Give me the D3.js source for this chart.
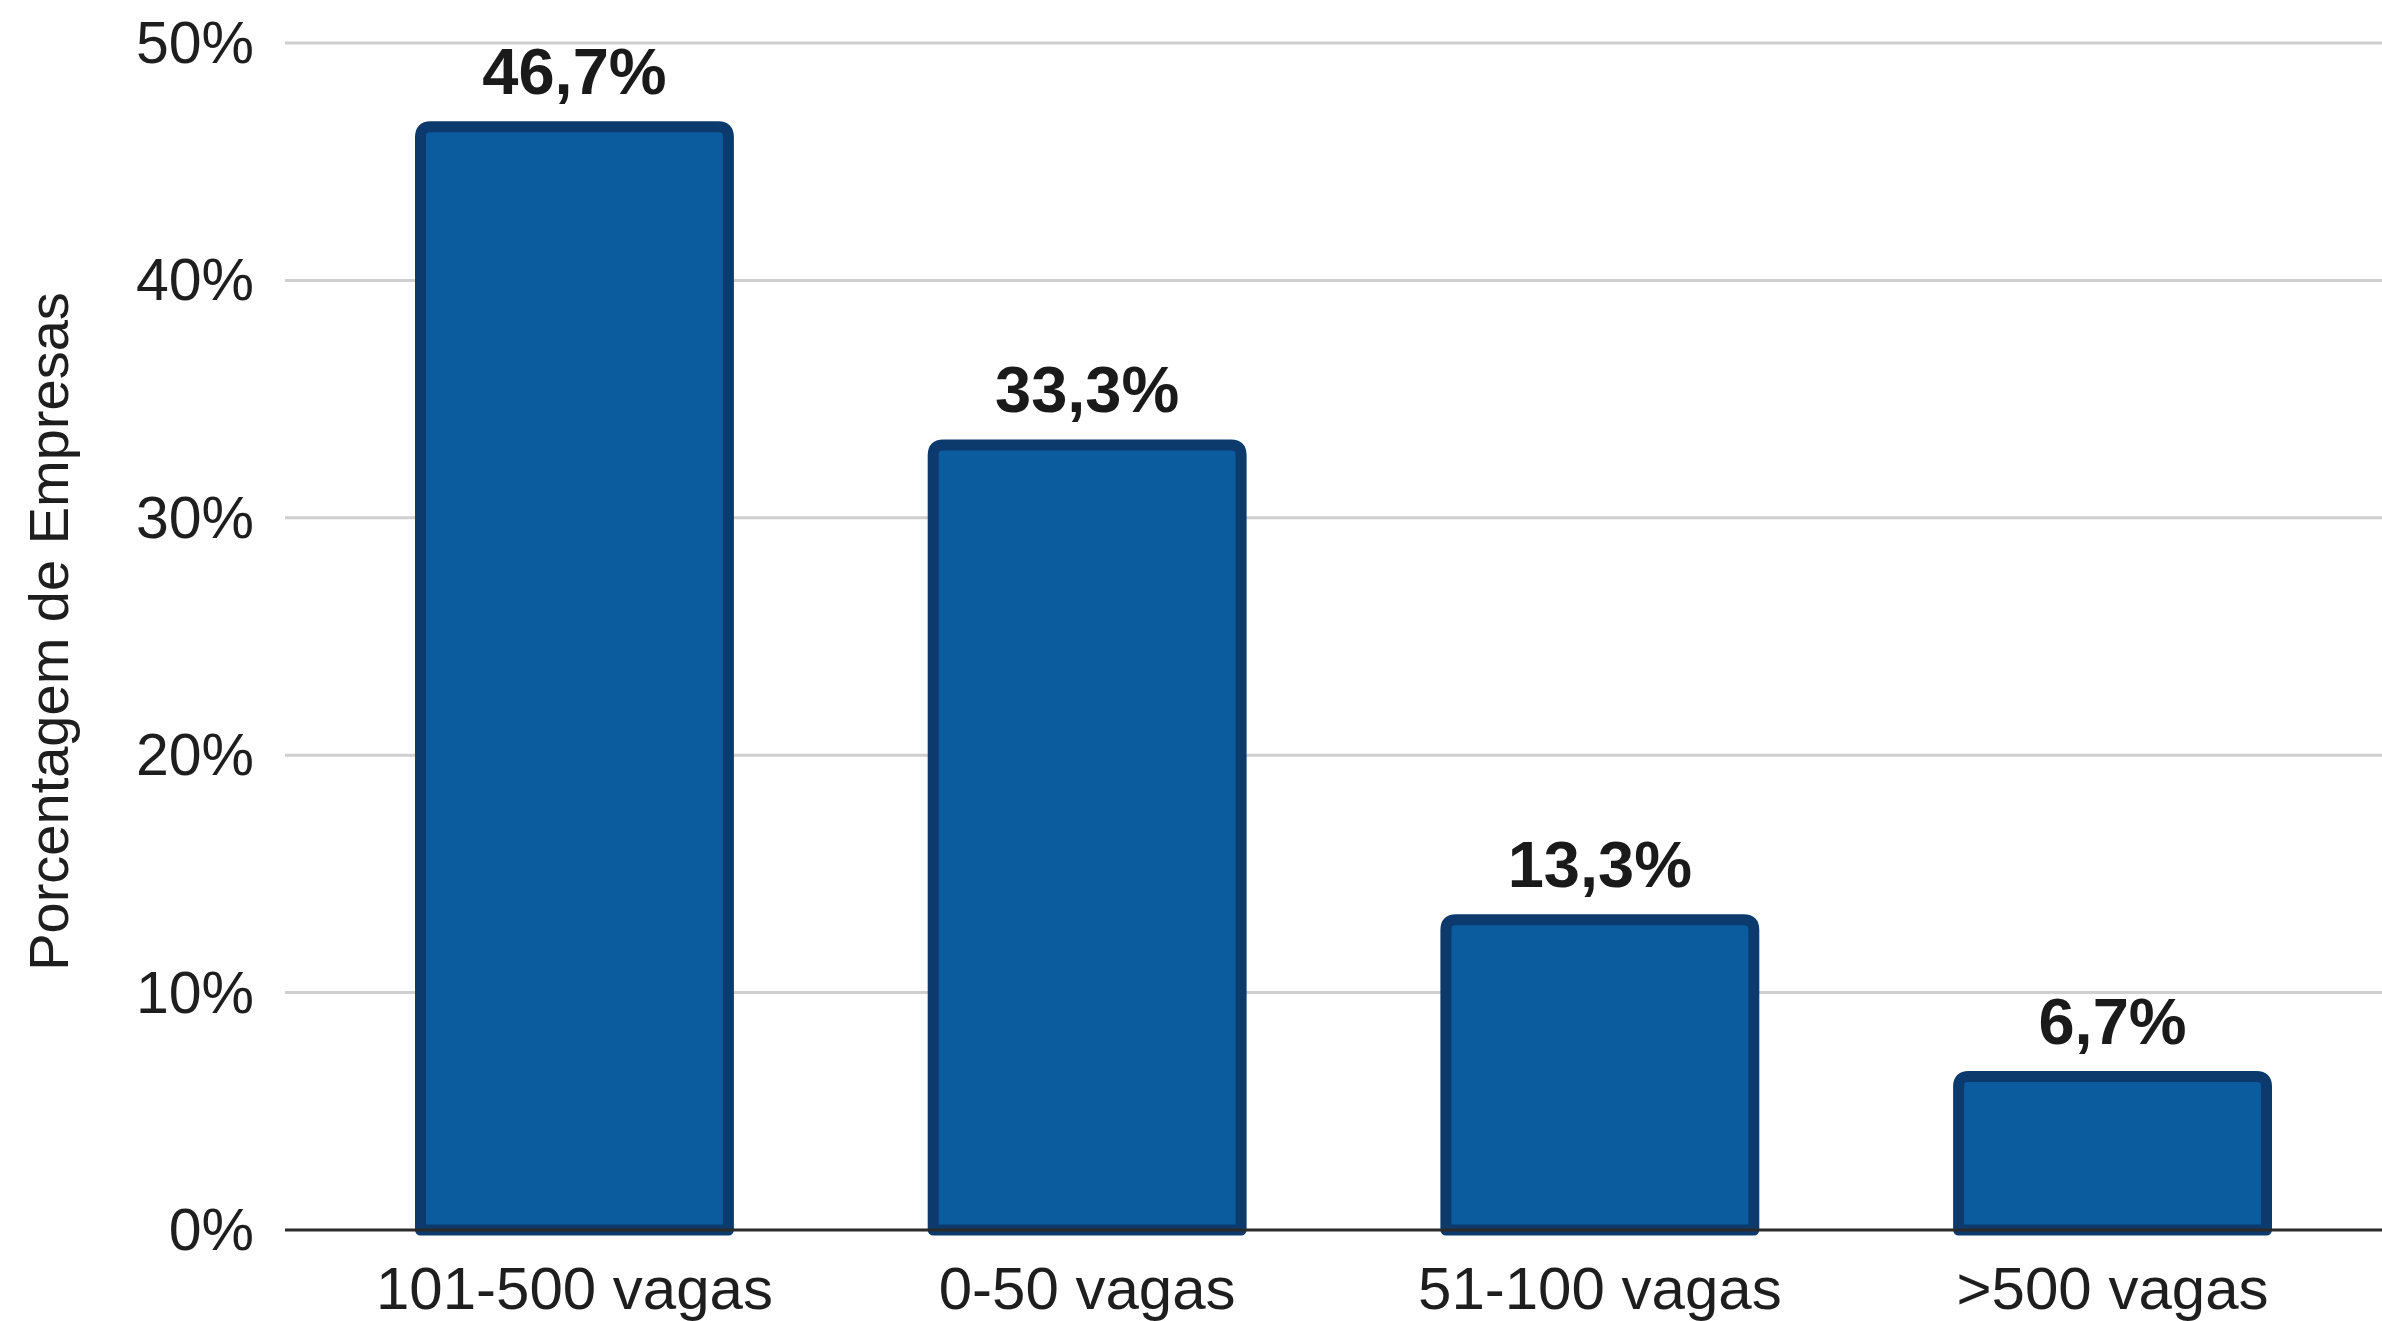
<!DOCTYPE html>
<html>
<head>
<meta charset="utf-8">
<script src="https://cdn.jsdelivr.net/npm/d3@7"></script>
<style>
html,body{margin:0;padding:0;background:#fff;}
svg{display:block;}
text{font-family:"Liberation Sans",Arial,Helvetica,sans-serif;}
</style>
</head>
<body>
<svg id="chart" width="2382" height="1321"></svg>
<script>
const categories = ["101-500 vagas", "0-50 vagas", "51-100 vagas", ">500 vagas"];
const values = [46.7, 33.3, 13.3, 6.7];
const valueLabels = ["46,7%", "33,3%", "13,3%", "6,7%"];
const yTicks = [0, 10, 20, 30, 40, 50];
const yTickLabels = ["0%", "10%", "20%", "30%", "40%", "50%"];
const yTitle = "Porcentagem de Empresas";

const W = 2382, H = 1321;
const svg = d3.select("#chart");

const y = d3.scaleLinear().domain([0, 50]).range([1230, 43]);
const x = d3.scaleBand().domain(categories).range([415, 2272]).paddingInner(0.378).paddingOuter(0);

const gridLeft = 285, gridRight = W;

// gridlines
svg.append("g").selectAll("line").data(yTicks.filter(d => d > 0)).join("line")
  .attr("x1", gridLeft).attr("x2", gridRight)
  .attr("y1", d => y(d)).attr("y2", d => y(d))
  .attr("stroke", "#cfcfcf").attr("stroke-width", 3);

// tick labels
svg.append("g").selectAll("text").data(yTicks).join("text")
  .attr("x", 254).attr("y", d => y(d))
  .attr("text-anchor", "end").attr("dominant-baseline", "central")
  .attr("font-size", 59).attr("fill", "#1e1e1e")
  .text((d, i) => yTickLabels[i]);

// y title
svg.append("text")
  .attr("transform", `translate(68,${(y(0) + y(50)) / 2 - 5}) rotate(-90)`)
  .attr("text-anchor", "middle")
  .attr("font-size", 56).attr("fill", "#1e1e1e")
  .text(yTitle);

// bars
const sw = 11, r = 10;
function barPath(d, i) {
  const x0 = x(categories[i]) + sw / 2;
  const x1 = x(categories[i]) + x.bandwidth() - sw / 2;
  const top = y(d) + sw / 2;
  const bot = y(0);
  return `M${x0},${bot} L${x0},${top + r} Q${x0},${top} ${x0 + r},${top} L${x1 - r},${top} Q${x1},${top} ${x1},${top + r} L${x1},${bot}`;
}
svg.append("g").selectAll("path").data(values).join("path")
  .attr("d", (d, i) => barPath(d, i) + " Z")
  .attr("fill", "#0a5c9f")
  .attr("stroke", "#0c3a6c").attr("stroke-width", sw).attr("stroke-linejoin", "round");

// baseline axis
svg.append("line")
  .attr("x1", gridLeft).attr("x2", gridRight)
  .attr("y1", y(0)).attr("y2", y(0))
  .attr("stroke", "#2b2b2b").attr("stroke-width", 3);

// value labels
svg.append("g").selectAll("text").data(values).join("text")
  .attr("x", (d, i) => x(categories[i]) + x.bandwidth() / 2)
  .attr("y", d => y(d) - 27)
  .attr("text-anchor", "middle")
  .attr("font-size", 65).attr("font-weight", "bold").attr("fill", "#1a1a1a")
  .text((d, i) => valueLabels[i]);

// x labels
svg.append("g").selectAll("text").data(categories).join("text")
  .attr("x", d => x(d) + x.bandwidth() / 2)
  .attr("y", 1309)
  .attr("text-anchor", "middle")
  .attr("font-size", 60).attr("fill", "#1e1e1e")
  .text(d => d);
</script>
</body>
</html>
